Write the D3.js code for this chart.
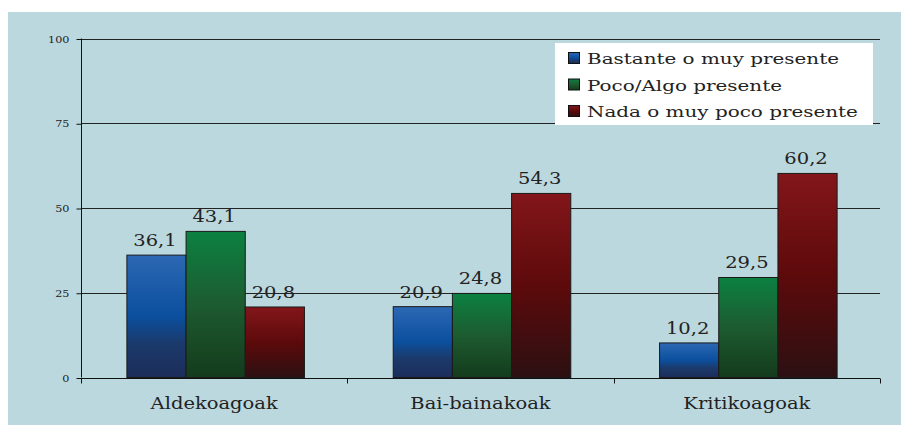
<!DOCTYPE html>
<html><head><meta charset="utf-8">
<script src="https://cdn.jsdelivr.net/npm/d3@7"></script>
<style>
html,body{margin:0;padding:0;background:#fff;}
svg{display:block;font-family:"DejaVu Serif",serif;}
</style></head>
<body>
<svg id="chart" width="901" height="425"></svg>
<script>
const categories = ["Aldekoagoak", "Bai-bainakoak", "Kritikoagoak"];
const seriesNames = ["Bastante o muy presente", "Poco/Algo presente", "Nada o muy poco presente"];
const bastante = [36.1, 20.9, 10.2];
const poco = [43.1, 24.8, 29.5];
const nada = [20.8, 54.3, 60.2];
const yTicks = [0, 25, 50, 75, 100];

const seriesValues = [bastante, poco, nada];
const gradStops = [
  [["0", "#2c68b3"], ["0.5", "#0b4f9e"], ["0.72", "#1b3a6c"], ["1", "#1c2d5a"]],
  [["0", "#0c8141"], ["0.5", "#1d5b30"], ["1", "#143b1c"]],
  [["0", "#83161a"], ["0.5", "#5d0a0b"], ["1", "#2c1012"]]
];
const wide = 1.22;   // horizontal stretch to mimic the wide serif face

const svg = d3.select("#chart");
const defs = svg.append("defs");
gradStops.forEach((stops, i) => {
  const g = defs.append("linearGradient").attr("id", "g" + i)
    .attr("x1", 0).attr("y1", 0).attr("x2", 0).attr("y2", 1);
  stops.forEach(s => g.append("stop").attr("offset", s[0]).attr("stop-color", s[1]));
});

svg.append("rect").attr("x", 8).attr("y", 12).attr("width", 893).attr("height", 413).attr("fill", "#bcd8df");

const pLeft = 81, pRight = 880, pTop = 38.5, pBottom = 377.5;
const x0 = d3.scaleBand().domain(categories).range([pLeft, pRight]).paddingInner(0).paddingOuter(0);
const x1 = d3.scaleBand().domain(d3.range(3)).range([0, x0.bandwidth()]).paddingInner(0).paddingOuter(0.75);
const y = d3.scaleLinear().domain([0, 100]).range([pBottom, pTop]);

// gridlines
svg.append("g").selectAll("line").data(yTicks.filter(t => t > 0)).join("line")
  .attr("x1", pLeft).attr("x2", pRight)
  .attr("y1", d => Math.round(y(d)) + 0.5).attr("y2", d => Math.round(y(d)) + 0.5)
  .attr("stroke", "#222").attr("stroke-width", 1);

// y axis
const yAxis = d3.axisLeft(y).tickValues(yTicks).tickSize(5).tickPadding(7).tickFormat(d3.format("d"));
const yg = svg.append("g").attr("transform", `translate(${pLeft + 0.5},0.5)`).call(yAxis);
yg.select(".domain").attr("stroke", "#111").attr("d", `M0,${pTop - 0.5}V${pBottom - 0.5}`);
yg.selectAll(".tick line").attr("stroke", "#111");
yg.selectAll("text").attr("font-size", 10).attr("fill", "#222").attr("font-family", "DejaVu Serif")
  .attr("x", -12 / 1.12).attr("transform", "scale(1.12,1)");

// bars
const groups = svg.append("g").selectAll("g").data(categories).join("g")
  .attr("transform", d => `translate(${x0(d) + 1.5},0)`);
groups.selectAll("rect").data((c, ci) => seriesValues.map((vals, si) => ({si, v: vals[ci]}))).join("rect")
  .attr("x", d => x1(d.si))
  .attr("y", d => y(d.v))
  .attr("width", x1.bandwidth())
  .attr("height", d => y(0) - y(d.v))
  .attr("fill", d => `url(#g${d.si})`)
  .attr("stroke", "#1a1a1a").attr("stroke-width", 1);
groups.selectAll("text").data((c, ci) => seriesValues.map((vals, si) => ({si, v: vals[ci]}))).join("text")
  .attr("transform", d => `translate(${x1(d.si) + x1.bandwidth() / 2 - 1.5},${y(d.v) - 9}) scale(${wide},1)`)
  .attr("text-anchor", "middle")
  .attr("font-size", 16).attr("fill", "#222")
  .text(d => d3.format(".1f")(d.v).replace(".", ","));

// x axis
const xAxis = d3.axisBottom(x0).tickSize(0).tickPadding(20);
const xg = svg.append("g").attr("transform", `translate(0,${Math.round(pBottom) + 0.5})`).call(xAxis);
xg.select(".domain").attr("stroke", "#111").attr("d", `M${pLeft},0H${pRight}`);
xg.selectAll("text").attr("font-size", 16).attr("fill", "#222").attr("font-family", "DejaVu Serif")
  .attr("dy", "0.71em").attr("y", 19).attr("transform", `scale(${wide},1)`);
const bounds = [x0(categories[0])].concat(categories.map(c => x0(c) + x0.bandwidth()));
xg.append("g").selectAll("line").data(bounds).join("line")
  .attr("x1", d => Math.round(d) + 0.5).attr("x2", d => Math.round(d) + 0.5)
  .attr("y1", 0).attr("y2", 5).attr("stroke", "#111");

// legend
const lg = svg.append("g");
lg.append("rect").attr("x", 555).attr("y", 43).attr("width", 318).attr("height", 82).attr("fill", "#fff");
seriesNames.forEach((name, i) => {
  const yy = 59 + i * 26.5;
  lg.append("rect").attr("x", 568.5).attr("y", yy - 6.5).attr("width", 11).attr("height", 11)
    .attr("fill", `url(#g${i})`).attr("stroke", "#111").attr("stroke-width", 1);
  lg.append("text").attr("transform", `translate(587,${yy + 5}) scale(1.33,1)`)
    .attr("font-size", 15).attr("fill", "#222").text(name);
});
</script>
</body></html>
